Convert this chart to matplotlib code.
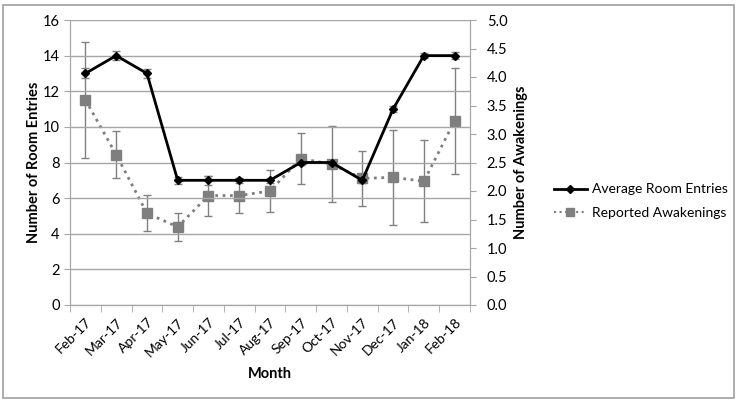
import matplotlib.pyplot as plt
import numpy as np
from matplotlib.patches import Rectangle
from matplotlib.lines import Line2D

months = ["Feb-17", "Mar-17", "Apr-17", "May-17", "Jun-17", "Jul-17", "Aug-17",
          "Sep-17", "Oct-17", "Nov-17", "Dec-17", "Jan-18", "Feb-18"]
room_entries = [13, 14, 13, 7, 7, 7, 7, 8, 8, 7, 11, 14, 14]
room_err = [0.28, 0.26, 0.25, 0.2, 0.26, 0.15, 0.15, 0.15, 0.15, 0.15, 0.15, 0.15, 0.2]
awakenings = [3.6, 2.64, 1.61, 1.37, 1.92, 1.92, 2.0, 2.57, 2.47, 2.22, 2.24, 2.17, 3.23]
awake_err = [1.02, 0.42, 0.32, 0.25, 0.35, 0.3, 0.36, 0.45, 0.67, 0.49, 0.83, 0.72, 0.93]

plt.rcParams["font.family"] = ["Lato", "DejaVu Sans"]
plt.rcParams["font.size"] = 10

grid_col = "#A6A6A6"
fig = plt.figure(figsize=(7.37, 4.03), dpi=100)
fig.patches.append(Rectangle((3 / 737, 5 / 403), 731 / 737, 393 / 403, transform=fig.transFigure,
                             fill=False, edgecolor="#A0A0A0", linewidth=1.2))
ax = fig.add_axes([70 / 737, 1 - 305 / 403, 400 / 737, 285 / 403])
ax2 = ax.twinx()

x = np.arange(len(months))

ax.set_ylim(0, 16)
ax.set_yticks(np.arange(0, 17, 2))
ax.yaxis.grid(True, color=grid_col, linewidth=1)
ax.set_axisbelow(True)
ax2.set_ylim(0, 5)
ax2.set_yticks(np.arange(0, 5.01, 0.5))
ax2.set_yticklabels([f"{v:.1f}" for v in np.arange(0, 5.01, 0.5)])

ax.set_xlim(-0.5, len(months) - 0.5)
ax.set_xticks(x)
ax.set_xticklabels(months, rotation=45, ha="right", rotation_mode="anchor")
ax.set_xticks(np.arange(-0.5, len(months)), minor=True)
ax.tick_params(axis="x", which="major", length=0, pad=8)
ax.tick_params(axis="x", which="minor", length=5, color=grid_col)
ax.tick_params(axis="y", length=4, color=grid_col, labelsize=10.5)
ax2.tick_params(axis="y", length=4, color=grid_col, pad=8, labelsize=10.5)

for a in (ax, ax2):
    a.spines["top"].set_visible(False)
    for s in ("left", "right", "bottom"):
        a.spines[s].set_color(grid_col)

ax2.errorbar(x, awakenings, yerr=awake_err, color="#7F7F7F", linestyle=":",
             linewidth=2, marker="s", markersize=7, ecolor="#808080",
             elinewidth=1, capsize=3, capthick=1, zorder=2)
ax.errorbar(x, room_entries, yerr=room_err, color="black", linewidth=2,
            marker="D", markersize=4, ecolor="#808080", elinewidth=1,
            capsize=3, capthick=1, zorder=3)
ax.set_zorder(ax2.get_zorder() + 1)
ax.patch.set_visible(False)

ax.set_ylabel("Number of Room Entries", fontweight="bold", fontsize=10.5, labelpad=1)
ax2.set_ylabel("Number of Awakenings", fontweight="bold", fontsize=10.5, labelpad=5)
ax.set_xlabel("Month", fontweight="bold", fontsize=10.5, labelpad=6)

handles = [
    Line2D([], [], color="black", linewidth=2, marker="D", markersize=4),
    Line2D([], [], color="#7F7F7F", linestyle=":", linewidth=1.5, marker="s", markersize=6),
]
fig.legend(handles, ["Average Room Entries", "Reported Awakenings"], loc="center left",
           bbox_to_anchor=(541 / 737, 1 - 201 / 403), frameon=False, fontsize=10,
           handlelength=2.4, handletextpad=0.4, labelspacing=0.8, borderpad=0.4)

plt.savefig("out.png", dpi=100)
